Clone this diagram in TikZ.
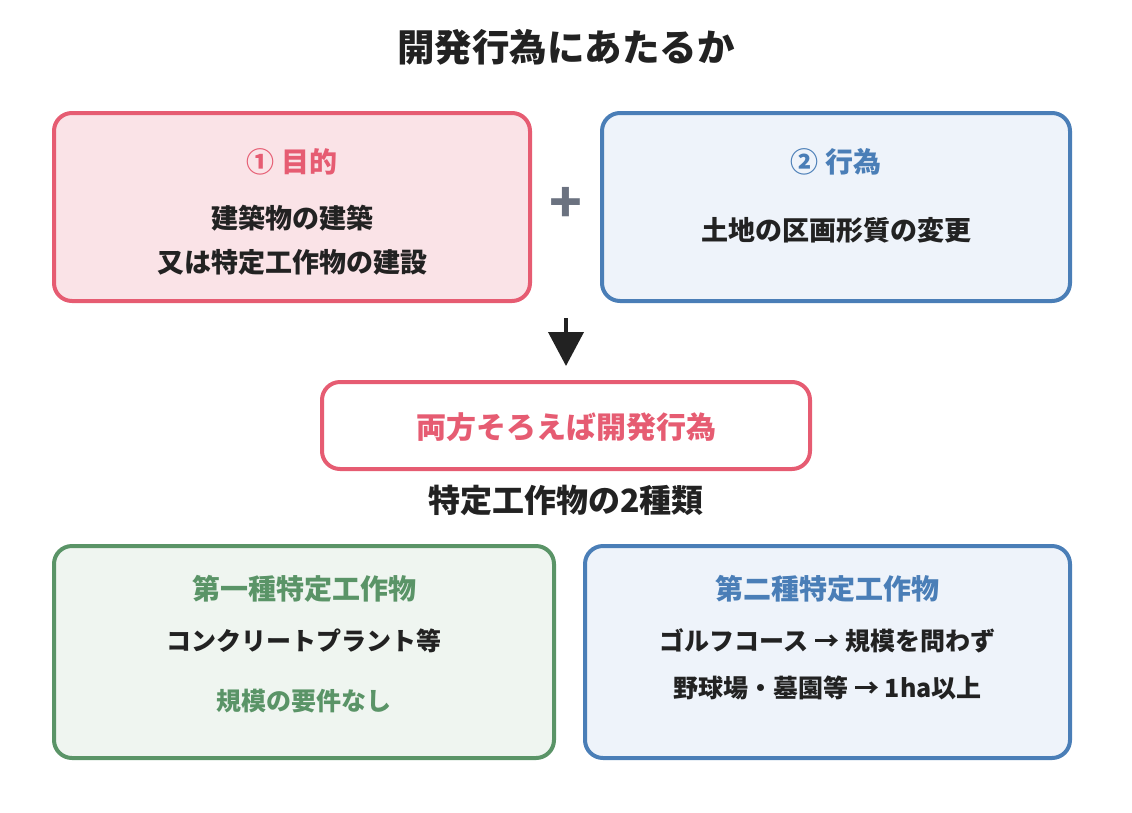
\documentclass[tikz,border=0pt]{standalone}
\usepackage{fontspec}
\setmainfont{Noto Sans CJK JP}
\usetikzlibrary{arrows.meta, positioning}

\definecolor{roseLine}{HTML}{E65C72}
\definecolor{roseFill}{HTML}{FAE3E7}
\definecolor{steelLine}{HTML}{4A7EB7}
\definecolor{steelFill}{HTML}{EEF3FA}
\definecolor{sageLine}{HTML}{5A9467}
\definecolor{sageFill}{HTML}{EFF5F0}
\definecolor{inkText}{HTML}{222222}
\definecolor{plusGray}{HTML}{6B7280}

\begin{document}
\begin{tikzpicture}[
    x=1pt, y=-1pt,
    panel/.style={draw, line width=4pt, rounded corners=18pt},
    headline/.style={font=\fontsize{28pt}{32pt}\selectfont\bfseries},
    bodytext/.style={font=\fontsize{25pt}{44pt}\selectfont\bfseries, text=inkText, align=center},
    toptext/.style={bodytext, font=\fontsize{27pt}{44pt}\selectfont\bfseries},
    >={Triangle[width=35pt, length=34pt]}
  ]
    \useasboundingbox (0,0) rectangle (1132,812);

    \node[font=\fontsize{37.5pt}{40pt}\selectfont\bfseries, text=inkText] (mainTitle) at (566,47) {開発行為にあたるか};

    % top row
    \node[panel, draw=roseLine, fill=roseFill, minimum width=476pt, minimum height=188pt] (purposeBox) at (292,207) {};
    \node[panel, draw=steelLine, fill=steelFill, minimum width=468pt, minimum height=188pt] (actBox) at (836,207) {};
    \node[headline, text=roseLine] (purposeHead) at (292,162) {① 目的};
    \node[toptext] (purposeText) at (292,240) {建築物の建築\\又は特定工作物の建設};
    \node[headline, text=steelLine] (actHead) at (836,162) {② 行為};
    \node[toptext] (actText) at (836,230) {土地の区画形質の変更};
    \node[font=\fontsize{54pt}{54pt}\selectfont\bfseries, text=plusGray] (plusSign) at (566,205) {+};

    % result
    \node[panel, draw=roseLine, fill=white, minimum width=488pt, minimum height=87pt] (resultBox) at (566,425.5) {};
    \node[font=\fontsize{30pt}{34pt}\selectfont\bfseries, text=roseLine] (resultText) at (566,427) {両方そろえば開発行為};
    \coordinate (arrowStart) at (566,318);
    \draw[->, line width=4pt, draw=inkText, fill=inkText, shorten >=14pt] (arrowStart) -- (resultBox.north);

    \node[font=\fontsize{32pt}{36pt}\selectfont\bfseries, text=inkText] (kindsTitle) at (566,500) {特定工作物の2種類};

    % bottom row
    \node[panel, draw=sageLine, fill=sageFill, minimum width=500pt, minimum height=212pt] (firstBox) at (304,652) {};
    \node[panel, draw=steelLine, fill=steelFill, minimum width=485pt, minimum height=212pt] (secondBox) at (827.5,652) {};
    \node[headline, text=sageLine] (firstHead) at (304,589) {第一種特定工作物};
    \node[bodytext] (firstText) at (304,641) {コンクリートプラント等};
    \node[bodytext, text=sageLine] (firstNote) at (304,701) {規模の要件なし};
    \node[headline, text=steelLine] (secondHead) at (827.5,589) {第二種特定工作物};
    \node[bodytext] (secondText) at (827.5,641) {ゴルフコース → 規模を問わず};
    \node[bodytext] (secondNote) at (827.5,688) {野球場・墓園等 → 1ha以上};
  \end{tikzpicture}
\end{document}
